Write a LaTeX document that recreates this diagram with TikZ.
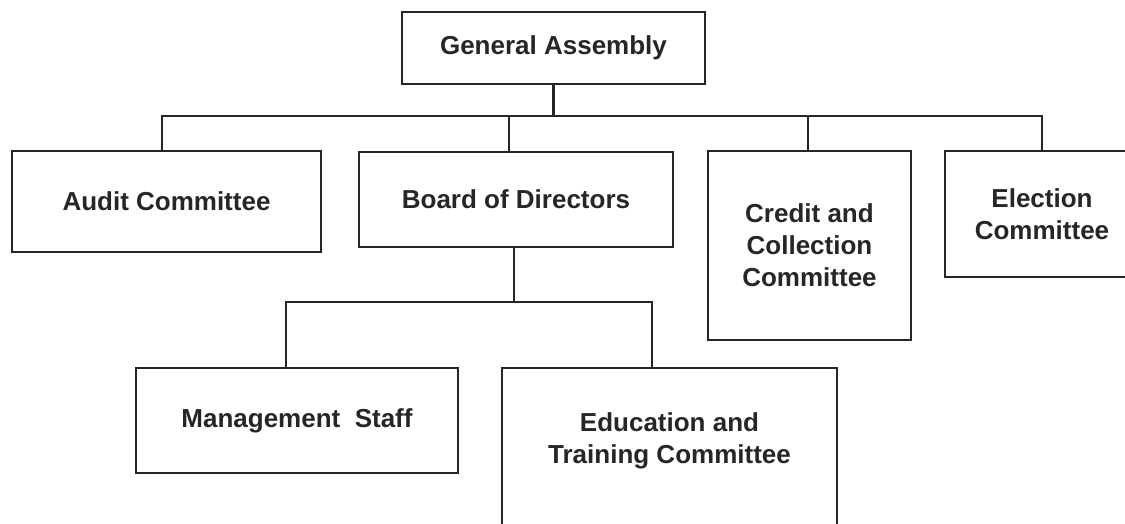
\documentclass[tikz,border=0pt]{standalone}
\usepackage{fontspec}
\setmainfont{Liberation Sans}
\begin{document}
\begin{tikzpicture}[x=1pt,y=-1pt,
  box/.style={draw=black!85, line width=2.2pt, fill=white, inner sep=0pt, align=center,
    font=\fontsize{26}{32}\selectfont\bfseries, text=black!85},
  txt/.style={inner sep=0pt, align=center, font=\fontsize{26}{32}\selectfont\bfseries, text=black!85},
  conn/.style={draw=black!85, line width=2.2pt, line join=miter}]
\useasboundingbox (0,0) rectangle (1125,523);
\clip (0,0) rectangle (1125,523);
% boxes
\node[box, minimum width=303pt, minimum height=72pt] (ga) at (553.5,48) {General Assembly};
\node[box, minimum width=309pt, minimum height=101pt] (audit) at (166.5,201.5) {Audit Committee};
\node[box, minimum width=314pt, minimum height=95pt] (board) at (516,199.5) {Board of Directors};
\node[box, minimum width=203pt, minimum height=189pt] (credit) at (809.5,245.5) {Credit and\\Collection\\Committee};
\node[box, minimum width=194pt, minimum height=126pt] (election) at (1042,214) {Election\\Committee};
\node[box, minimum width=322pt, minimum height=105pt] (mgmt) at (297,420.5) {Management\ \ Staff};
\node[box, minimum width=335pt, minimum height=192pt] (edu) at (669.5,464) {};
\node[txt] (edutext) at (669.5,441) {Education and\\Training Committee};
% connectors
\coordinate (bus) at (553.5,116);
\coordinate (bus2) at (514,302);
\draw[conn] (ga.south) -- (bus);
\draw[conn] ([xshift=-4.5pt]audit.north) |- (bus);
\draw[conn] ([xshift=-7pt]board.north) |- (bus);
\draw[conn] ([xshift=-1.5pt]credit.north) |- (bus);
\draw[conn] (election.north) |- (bus);
\draw[conn] ([xshift=-2pt]board.south) -- (bus2);
\draw[conn] ([xshift=-11pt]mgmt.north) |- (bus2);
\draw[conn] ([xshift=-17.5pt]edu.north) |- (bus2);
\end{tikzpicture}
\end{document}
